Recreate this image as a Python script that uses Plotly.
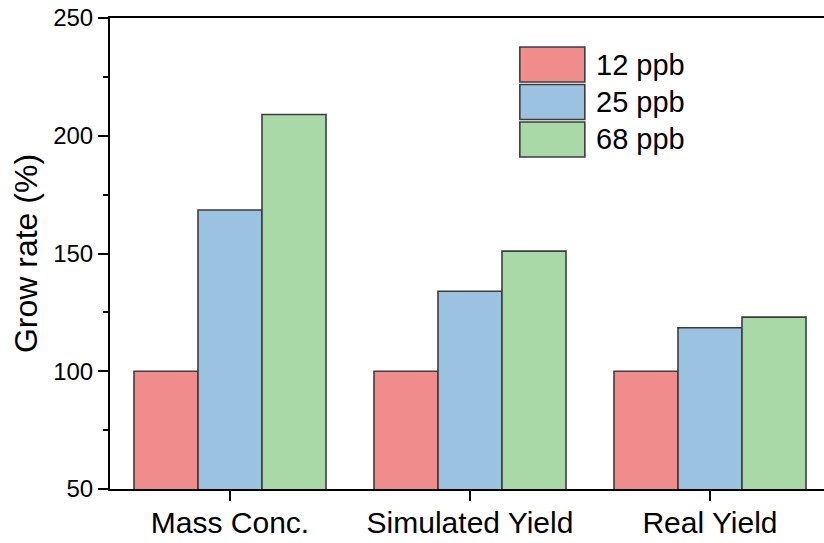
import plotly.graph_objects as go

categories = ["Mass Conc.", "Simulated Yield", "Real Yield"]
series_names = ["12 ppb", "25 ppb", "68 ppb"]
values_12 = [100, 100, 100]
values_25 = [168.5, 134, 118.5]
values_68 = [209, 151, 123]
colors = ["#F08C8C", "#9CC2E2", "#A8D9A6"]
y_ticks = [50, 100, 150, 200, 250]

FONT = "Liberation Sans, Arial, sans-serif"
fig = go.Figure()
for name, vals, col in zip(series_names, [values_12, values_25, values_68], colors):
    fig.add_trace(go.Bar(
        x=categories, y=vals, name=name,
        marker=dict(color=col, line=dict(color="#3d3d3d", width=1.6)),
        showlegend=False,
    ))

# manual legend (large boxes)
x0, x1 = 0.574, 0.665
ytop = 0.9384
box_h = 0.0743
step = 0.0796
for i, (name, col) in enumerate(zip(series_names, colors)):
    yt = ytop - i * step
    fig.add_shape(type="rect", xref="paper", yref="paper",
                  x0=x0, x1=x1, y0=yt - box_h, y1=yt,
                  fillcolor=col, line=dict(color="#3d3d3d", width=1.6))
    fig.add_annotation(xref="paper", yref="paper", x=0.678, y=yt - box_h / 2,
                       text=name, showarrow=False, xanchor="left", yanchor="middle",
                       font=dict(size=29, color="black", family=FONT))

fig.update_layout(
    width=824, height=543,
    margin=dict(l=110, r=0, t=18, b=54, autoexpand=False),
    plot_bgcolor="white", paper_bgcolor="white",
    barmode="group", bargap=0.2, bargroupgap=0,
    font=dict(family=FONT, color="black"),
    xaxis=dict(range=[-0.5, 2.475], showline=True, linecolor="black", linewidth=2,
               mirror=True, ticks="outside", ticklen=10, tickwidth=2, tickcolor="black",
               tickfont=dict(size=30, family=FONT), showgrid=False, zeroline=False,
               automargin=False, ticklabelstandoff=-4),
    yaxis=dict(range=[50, 250], tickvals=y_ticks, showline=True, linecolor="black",
               linewidth=2, ticks="outside", ticklen=10, tickwidth=2, tickcolor="black",
               tickfont=dict(size=24, family=FONT), showgrid=False, zeroline=False,
               automargin=False,
               minor=dict(dtick=25, ticks="outside", ticklen=5, tickwidth=2, tickcolor="black"),
               title=dict(text="Grow rate (%)", font=dict(size=32, family=FONT), standoff=6)),
)
fig.write_html("out.html")
